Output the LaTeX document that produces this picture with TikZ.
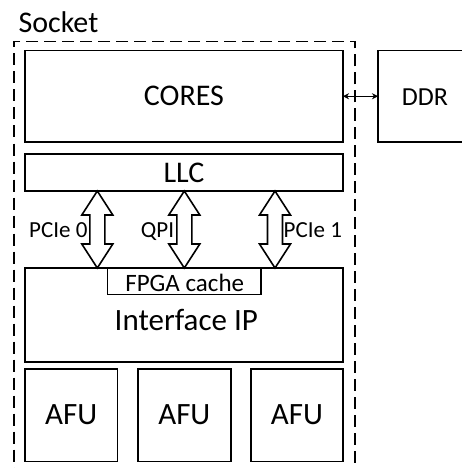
\documentclass[tikz,border=0pt]{standalone}
\usepackage{fontspec}
\setmainfont{Carlito}
\usetikzlibrary{arrows.meta,calc}
\newcommand\setfs[1]{\fontsize{#1}{#1}\selectfont}
\begin{document}
\begin{tikzpicture}[x=1pt,y=-1pt,
  box/.style={draw, rectangle, line width=1.6pt, inner sep=0pt, outer sep=0pt},
  txt/.style={inner sep=0pt, outer sep=0pt, anchor=base},
  blk/.style={draw, line width=1.6pt, fill=white, line join=miter},
  dashbox/.style={draw, rectangle, dash pattern=on 12pt off 6pt, line width=1.7pt, inner sep=0pt, outer sep=0pt},
  link/.style={line width=0.8pt, {Stealth[length=6pt,width=6pt]}-{Stealth[length=6pt,width=6pt]}}]
\fill[white] (0,0) rectangle (462,468);
\clip (0,0) rectangle (462,468);
% socket
\node[dashbox, minimum width=341pt, minimum height=440pt] (socket) at (184.5,261.5) {};
\node[txt, anchor=base west, font=\setfs{30}] (socketl) at (18.5,32.3) {Socket};
% cores and DDR
\node[box, minimum width=318pt, minimum height=91.5pt, font=\setfs{30}] (cores) at (184,96.25) {CORES};
\node[box, minimum width=102pt, minimum height=91.5pt] (ddr) at (429,96.25) {};
\node[txt, font=\setfs{26}] (ddrl) at (425,105.3) {DDR};
\draw[link] (cores.east) -- (ddr.west);
% LLC
\node[box, minimum width=318pt, minimum height=37pt, font=\setfs{30}] (llc) at (184,172.5) {LLC};
% interface IP
\node[box, minimum width=318pt, minimum height=93.7pt] (ifip) at (184,314.85) {};
\node[txt, font=\setfs{31}] (ifipl) at (186.3,330) {Interface IP};
\node[box, minimum width=153.4pt, minimum height=26.3pt] (fpga) at (184,281.15) {};
\node[txt, font=\setfs{25}] (fpgal) at (184.7,291.7) {FPGA cache};
% AFUs
\node[box, minimum width=92.3pt, minimum height=92.3pt, font=\setfs{31}] (afu1) at (71.15,415.15) {AFU};
\node[box, minimum width=92.7pt, minimum height=92.3pt, font=\setfs{31}] (afu2) at (184.35,415.15) {AFU};
\node[box, minimum width=92pt, minimum height=92.3pt, font=\setfs{31}] (afu3) at (297,415.15) {AFU};
% block arrows
\coordinate (c0) at (97.3,0);
\coordinate (c1) at (184.3,0);
\coordinate (c2) at (275,0);
\foreach \c in {c0,c1,c2}{
  \draw[blk] (llc.south -| \c) -- ++(15.5,24) -- ++(-8,0)
    -- ($(ifip.north -| \c)+(7.5,-24)$) -- ++(8,0) -- (ifip.north -| \c)
    -- ++(-15.5,-24) -- ++(8,0) -- ($(llc.south -| \c)+(-7.5,24)$) -- ++(-8,0) -- cycle;
}
% labels
\node[txt, font=\setfs{23}] (l0) at (58.3,237.7) {PCIe 0};
\node[txt, font=\setfs{23}] (l1) at (157.5,237.7) {QPI};
\node[txt, font=\setfs{23}] (l2) at (312.8,237.7) {PCIe 1};
\end{tikzpicture}
\end{document}
